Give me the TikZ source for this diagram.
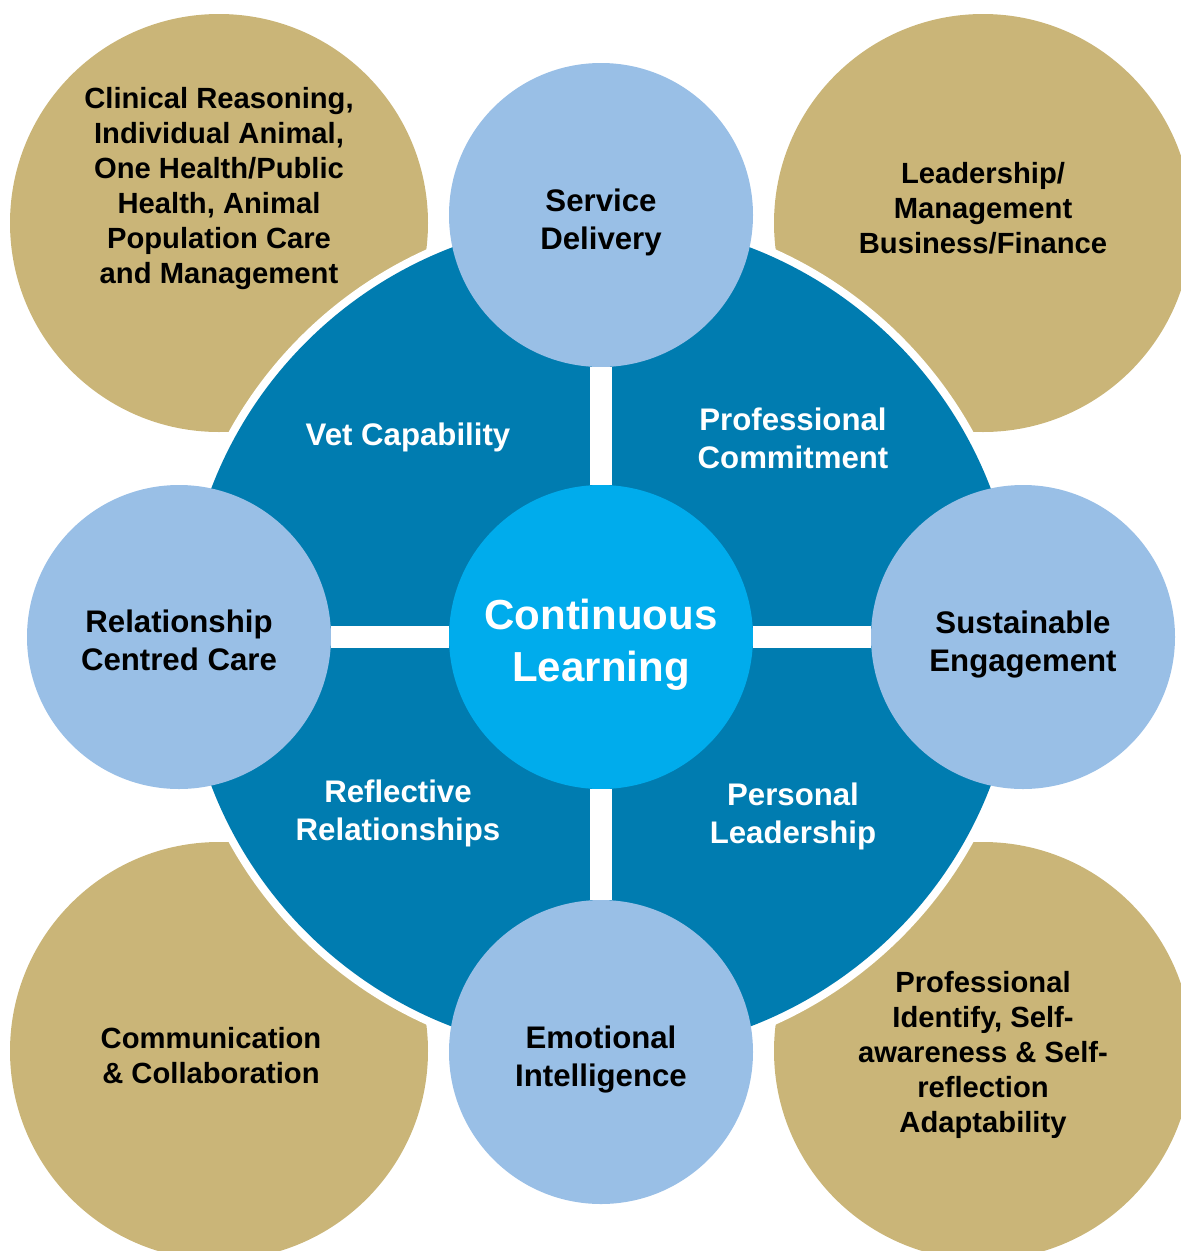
\documentclass[tikz,border=0pt]{standalone}
\usepackage{fontspec}
\setmainfont{Liberation Sans}
\definecolor{ringblue}{RGB}{0,124,176}
\definecolor{lightblue}{RGB}{153,191,230}
\definecolor{tan}{RGB}{202,181,120}
\definecolor{cyanc}{RGB}{0,172,236}
\tikzset{
  tancirc/.style={circle,fill=tan,draw=none,inner sep=0pt,minimum size=418pt},
  lightcirc/.style={circle,fill=lightblue,draw=none,inner sep=0pt,minimum size=304pt},
  centercirc/.style={circle,fill=cyanc,draw=none,inner sep=0pt,minimum size=304pt},
  tantext/.style={align=center,font=\bfseries\fontsize{29.2}{35}\selectfont,text=black,inner sep=0pt},
  lighttext/.style={align=center,font=\bfseries\fontsize{31.2}{38}\selectfont,text=black,inner sep=0pt},
  sectortext/.style={align=center,font=\bfseries\fontsize{31.2}{38}\selectfont,text=white,inner sep=0pt},
  centertext/.style={align=center,font=\bfseries\fontsize{42}{52}\selectfont,text=white,inner sep=0pt},
  bar/.style={line width=22pt,draw=white}
}
\begin{document}
\begin{tikzpicture}[x=1pt,y=-1pt]
\useasboundingbox (0,0) rectangle (1181,1251);
\clip (0,0) rectangle (1181,1251);
% outer tan circles
\node[tancirc] (tl) at (219,223) {};
\node[tancirc] (tr) at (983,223) {};
\node[tancirc] (bl) at (219,1051) {};
\node[tancirc] (br) at (983,1051) {};
% big ring
\node[circle,fill=white,inner sep=0pt,minimum size=850pt] (ringout) at (601,637) {};
\node[circle,fill=ringblue,inner sep=0pt,minimum size=834pt] (ring) at (601,637) {};
% light blue circles
\node[lightcirc] (sd) at (601,215) {};
\node[lightcirc] (rc) at (179,637) {};
\node[lightcirc] (se) at (1023,637) {};
\node[lightcirc] (ei) at (601,1052) {};
\node[centercirc] (cl) at (601,637) {};
% white cross bars
\draw[bar] (cl.north) -- (sd.south);
\draw[bar] (cl.south) -- (ei.north);
\draw[bar] (cl.west) -- (rc.east);
\draw[bar] (cl.east) -- (se.west);
% texts
\node[tantext] (tlt) at (219,189) {Clinical Reasoning,\\Individual Animal,\\One Health/Public\\Health, Animal\\Population Care\\and Management};
\node[tantext] (trt) at (983,208) {Leadership/\\Management\\Business/Finance};
\node[tantext] (blt) at (211,1056) {Communication\\\& Collaboration};
\node[tantext] (brt) at (983,1055) {Professional\\Identify, Self-\\awareness \& Self-\\reflection\\Adaptability};
\node[lighttext] (sdt) at (601,222) {Service\\Delivery};
\node[lighttext] (rct) at (179,640) {Relationship\\Centred Care};
\node[lighttext] (set) at (1023,644) {Sustainable\\Engagement};
\node[lighttext] (eit) at (601,1059) {Emotional\\Intelligence};
\node[centertext] (clt) at (601,645) {Continuous\\Learning};
\node[sectortext] (vc) at (408,437) {Vet Capability};
\node[sectortext] (pc) at (793,438) {Professional\\Commitment};
\node[sectortext] (rr) at (398,813) {Reflective\\Relationships};
\node[sectortext] (pl) at (793,816) {Personal\\Leadership};
\end{tikzpicture}
\end{document}
